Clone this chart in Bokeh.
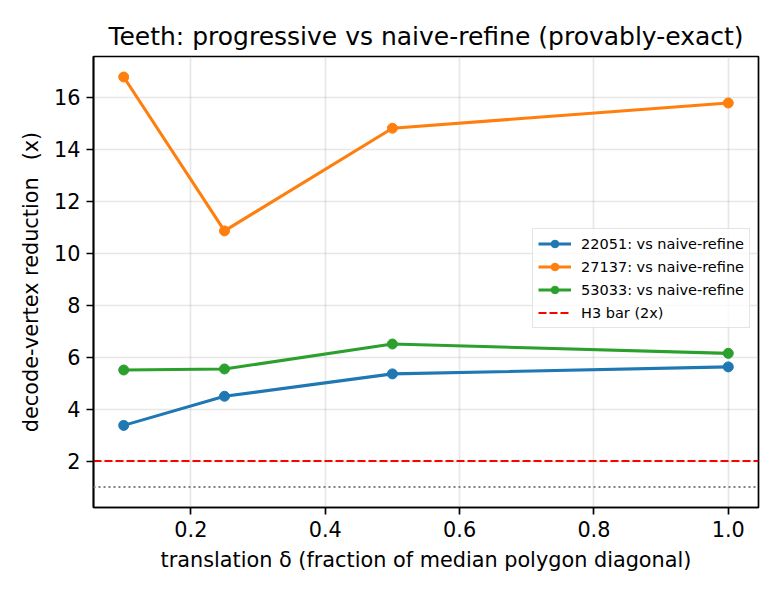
from bokeh.plotting import figure
from bokeh.models import (Range1d, FixedTicker, PrintfTickFormatter, Span,
                          Legend, LegendItem)
from bokeh.embed import file_html
from bokeh.resources import INLINE

# translation delta (fraction of median polygon diagonal)
delta = [0.1, 0.25, 0.5, 1.0]

# decode-vertex reduction factor vs naive-refine, per shape
red_22051 = [3.37, 4.49, 5.35, 5.62]
red_27137 = [16.77, 10.85, 14.80, 15.77]
red_53033 = [5.50, 5.54, 6.50, 6.14]

series_names = ["22051: vs naive-refine", "27137: vs naive-refine", "53033: vs naive-refine"]
series_colors = ["#1f77b4", "#ff7f0e", "#2ca02c"]

h3_bar = 2.0      # target reduction
parity = 1.0      # no reduction

x_ticks = [0.2, 0.4, 0.6, 0.8, 1.0]
y_ticks = [2, 4, 6, 8, 10, 12, 14, 16]

FONT = "DejaVu Sans"

# autoscale with a 5% margin on each side
all_y = red_22051 + red_27137 + red_53033 + [h3_bar, parity]
x_lo, x_hi = min(delta), max(delta)
y_lo, y_hi = min(all_y), max(all_y)
xm = 0.05 * (x_hi - x_lo)
ym = 0.05 * (y_hi - y_lo)
x_start, x_end = x_lo - xm, x_hi + xm

p = figure(width=780, height=600, output_backend="svg", toolbar_location=None,
           x_range=Range1d(x_start, x_end),
           y_range=Range1d(y_lo - ym, y_hi + ym),
           min_border_left=93, min_border_right=22,
           min_border_top=56, min_border_bottom=93)

p.title.text = "Teeth: progressive vs naive-refine (provably-exact)"
p.title.text_font = FONT
p.title.text_font_size = "25px"
p.title.text_font_style = "normal"
p.title.align = "center"
p.title.text_color = "black"
p.title.standoff = 12

p.background_fill_color = "white"
p.border_fill_color = "white"
p.outline_line_color = "black"
p.outline_line_width = 1.7
p.outline_line_alpha = 1.0

for ax in (p.xaxis[0], p.yaxis[0]):
    ax.axis_line_width = 1.7
    ax.axis_line_color = "black"
    ax.major_tick_line_width = 1.7
    ax.major_tick_out = 7
    ax.major_tick_in = 0
    ax.minor_tick_line_color = None
    ax.major_label_text_font = FONT
    ax.major_label_text_font_size = "20.8px"
    ax.major_label_text_color = "black"
    ax.axis_label_text_font = FONT
    ax.axis_label_text_font_size = "20.8px"
    ax.axis_label_text_font_style = "normal"
    ax.axis_label_text_color = "black"
    ax.major_label_standoff = 6

p.xaxis.ticker = FixedTicker(ticks=x_ticks)
p.xaxis.formatter = PrintfTickFormatter(format="%.1f")
p.yaxis.ticker = FixedTicker(ticks=y_ticks)
p.yaxis.formatter = PrintfTickFormatter(format="%d")
p.xaxis.axis_label = "translation \u03b4 (fraction of median polygon diagonal)"
p.yaxis.axis_label = "decode-vertex reduction \u2002(x)"
p.xaxis.axis_label_standoff = 8
p.yaxis.axis_label_standoff = 8

p.grid.grid_line_color = "#b0b0b0"
p.grid.grid_line_alpha = 0.3
p.grid.grid_line_width = 1.7

# parity reference line
p.add_layout(Span(location=parity, dimension="width", line_color="gray",
                  line_dash="2 3", line_width=2))

# H3 bar drawn across the full x range so it can appear in the legend
h3_line = p.line(x=[x_start, x_end], y=[h3_bar, h3_bar], line_color="red",
                 line_dash="8 3", line_width=2)

items = []
for ys, name, col in zip([red_22051, red_27137, red_53033], series_names, series_colors):
    ln = p.line(delta, ys, line_color=col, line_width=3.1, line_join="round")
    sc = p.scatter(delta, ys, size=10, fill_color=col, line_color=col)
    items.append(LegendItem(label=name, renderers=[ln, sc]))

items.append(LegendItem(label="H3 bar (2x)", renderers=[h3_line]))

legend = Legend(items=items, location=(439, 179))
legend.label_text_font = FONT
legend.label_text_font_size = "14.5px"
legend.label_text_color = "black"
legend.glyph_width = 33
legend.glyph_height = 19
legend.label_height = 19
legend.label_standoff = 10
legend.spacing = 4
legend.padding = 5
legend.margin = 0
legend.border_line_color = "#cccccc"
legend.border_line_width = 1.5
legend.background_fill_alpha = 0.8
p.add_layout(legend, "center")

open("out.html", "w").write(file_html(p, INLINE))
